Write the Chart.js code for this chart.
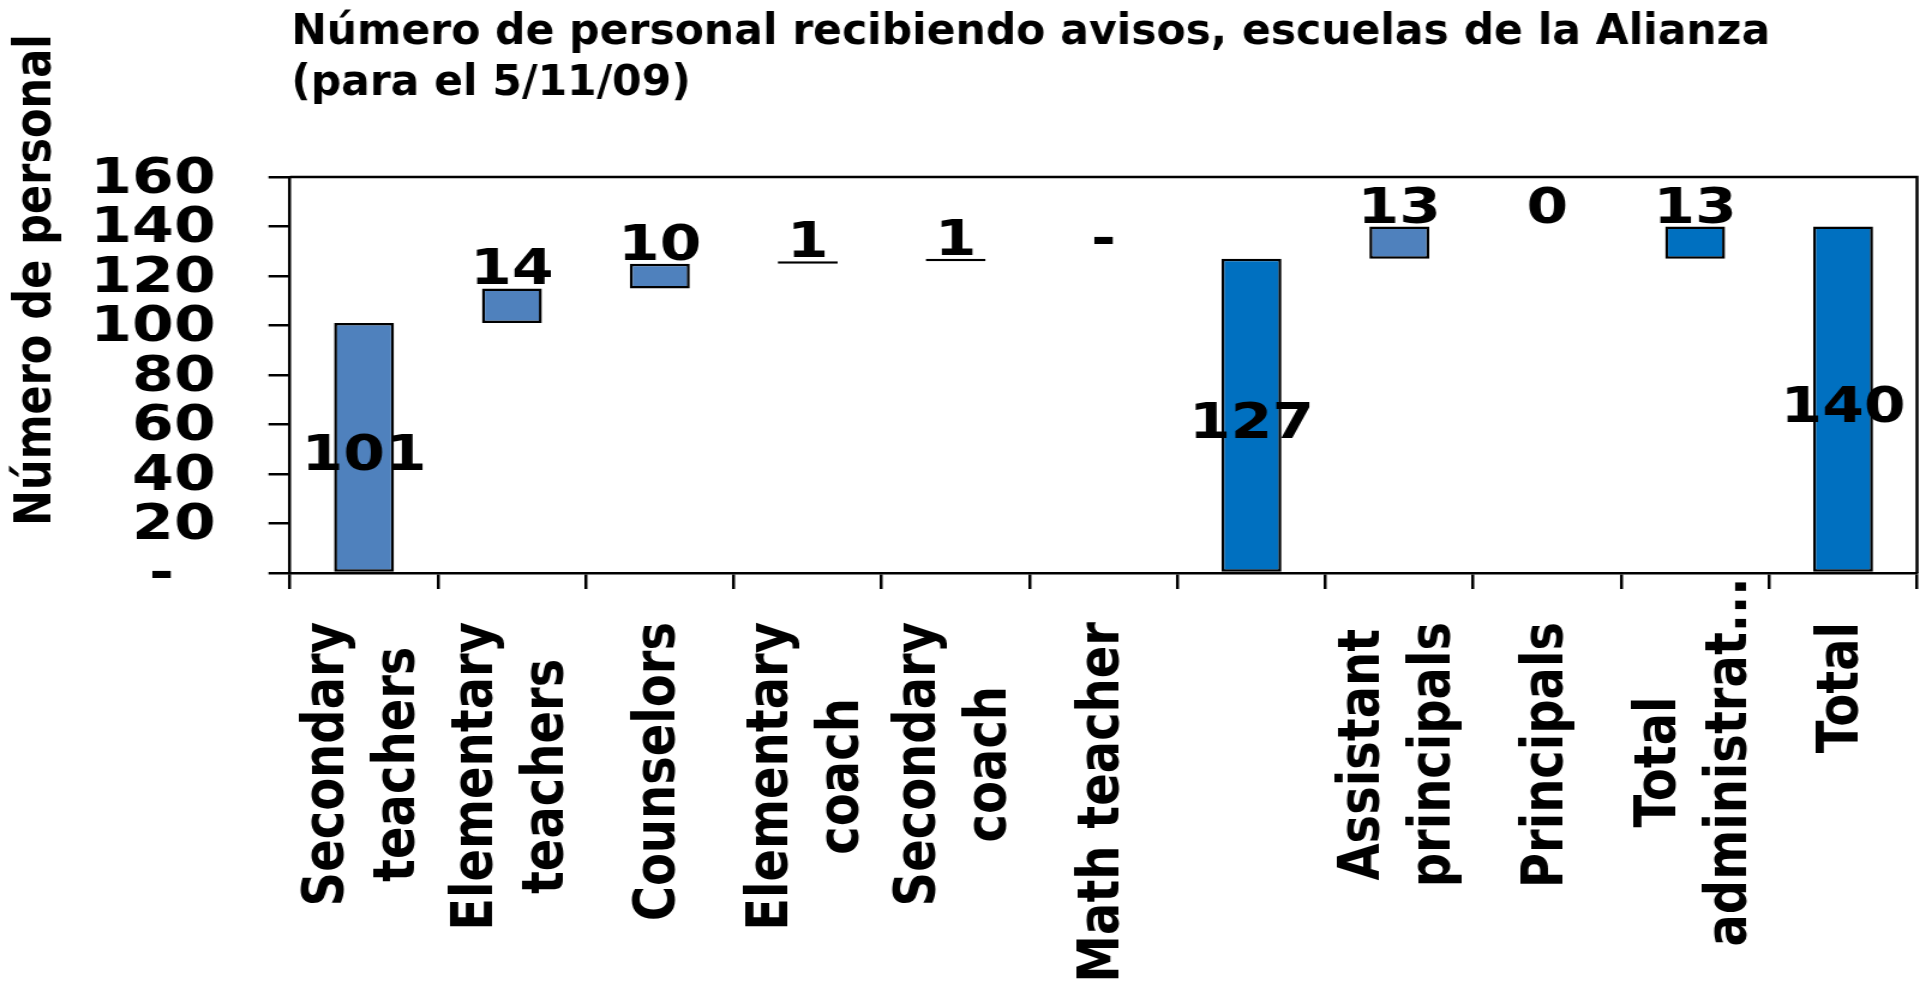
<!DOCTYPE html>
<html>
<head>
<meta charset="utf-8">
<title>Número de personal recibiendo avisos</title>
<script src="https://cdn.jsdelivr.net/npm/chart.js@4.4.1/dist/chart.umd.min.js"></script>
<style>
  html, body { margin: 0; padding: 0; background: #fff; overflow: hidden; }
  /* the source picture is stretched sideways, so the whole chart is too */
  #wrap { width: 1605px; height: 985px; transform: scaleX(1.2); transform-origin: 0 0; }
</style>
</head>
<body>
<div id="wrap"><canvas id="waterfall" width="1605" height="985"></canvas></div>
<script>
const chartTitle = ['Número de personal recibiendo avisos, escuelas de la Alianza', '(para el 5/11/09)'];
const yAxisTitle = 'Número de personal';

const categories = [
  ['Secondary', 'teachers'],
  ['Elementary', 'teachers'],
  ['Counselors'],
  ['Elementary', 'coach'],
  ['Secondary', 'coach'],
  ['Math teacher'],
  [''],
  ['Assistant', 'principals'],
  ['Principals'],
  ['Total', 'administrat...'],
  ['Total']
];
const values = [101, 14, 10, 1, 1, 0, 127, 13, 0, 13, 140];
// step = adds to the running count, total = full bar from zero,
// subtotal = floating bar ending at the running count
const barKinds = ['step', 'step', 'step', 'step', 'step', 'step', 'total', 'step', 'step', 'subtotal', 'total'];
const valueLabels = ['101', '14', '10', '1', '1', '-', '127', '13', '0', '13', '140'];
const yTickLabels = ['-', '20', '40', '60', '80', '100', '120', '140', '160'];

const stepColor = '#4F81BD';
const totalColor = '#0070C0';
const fontFamily = '"DejaVu Sans", Verdana, sans-serif';
const stretch = 1.2;

// waterfall ranges from the values
let running = 0;
const barRanges = values.map((v, i) => {
  if (barKinds[i] === 'total') { running = v; return [0, v]; }
  if (barKinds[i] === 'subtotal') return [running - v, running];
  const start = running;
  running += v;
  return [start, running];
});

Chart.defaults.font.family = fontFamily;
Chart.defaults.font.weight = 'bold';
Chart.defaults.color = '#000';

const textPlugin = {
  id: 'textPlugin',
  afterDatasetsDraw(chart) {
    const { ctx, chartArea } = chart;
    const yScale = chart.scales.y;
    const meta = chart.getDatasetMeta(0);

    // frame round the plot area (top and right side)
    ctx.save();
    ctx.strokeStyle = '#000';
    ctx.lineWidth = 2.5;
    ctx.beginPath();
    ctx.moveTo(chartArea.left, chartArea.top);
    ctx.lineTo(chartArea.right, chartArea.top);
    ctx.lineTo(chartArea.right, chartArea.bottom);
    ctx.stroke();
    ctx.restore();

    // value labels: bars standing on zero get it in the middle, the rest on top
    ctx.save();
    ctx.font = 'bold 50px ' + fontFamily;
    ctx.fillStyle = '#000';
    ctx.textAlign = 'center';
    ctx.textBaseline = 'alphabetic';
    meta.data.forEach((bar, i) => {
      const [lo, hi] = barRanges[i];
      if (lo === 0 && hi > 0) {
        ctx.fillText(valueLabels[i], bar.x, yScale.getPixelForValue((lo + hi) / 2) + 22);
      } else {
        ctx.fillText(valueLabels[i], bar.x, yScale.getPixelForValue(hi) - 4);
      }
    });
    ctx.restore();
  },
  afterDraw(chart) {
    const { ctx, chartArea } = chart;
    const xScale = chart.scales.x;

    // title (not stretched in the source)
    ctx.save();
    ctx.font = 'bold 42.5px ' + fontFamily;
    ctx.fillStyle = '#000';
    ctx.textAlign = 'left';
    ctx.textBaseline = 'alphabetic';
    ctx.translate(chartArea.left + 1, 0);
    ctx.scale(1 / stretch, 1);
    ctx.fillText(chartTitle[0], 0, 44);
    ctx.fillText(chartTitle[1], 0, 95);
    ctx.restore();

    // y axis title, sits higher than the middle of the axis
    ctx.save();
    ctx.font = 'bold 43px ' + fontFamily;
    ctx.fillStyle = '#000';
    ctx.translate(41.5, 280);
    ctx.rotate(-Math.PI / 2);
    ctx.textAlign = 'center';
    ctx.textBaseline = 'alphabetic';
    ctx.fillText(yAxisTitle, 0, 0);
    ctx.restore();

    // category labels, turned up, lines centred on each other;
    // a cut-off label ("...") is centred lower down instead
    ctx.save();
    ctx.font = 'bold 48px ' + fontFamily;
    ctx.fillStyle = '#000';
    categories.forEach((lines, i) => {
      const cx = xScale.getPixelForValue(i);
      const widest = Math.max(...lines.map(l => ctx.measureText(l).width));
      const cut = lines.some(l => l.endsWith('...'));
      const mid = cut ? 762 : xScale.top + 49 + widest / 2;
      ctx.save();
      ctx.translate(cx, mid);
      ctx.rotate(-Math.PI / 2);
      ctx.textAlign = 'center';
      ctx.textBaseline = 'middle';
      lines.forEach((line, k) => {
        ctx.fillText(line, 0, (k - (lines.length - 1) / 2) * 59);
      });
      ctx.restore();
    });
    ctx.restore();
  }
};

new Chart(document.getElementById('waterfall'), {
  type: 'bar',
  data: {
    labels: categories,
    datasets: [{
      data: barRanges,
      backgroundColor: barKinds.map(k => k === 'step' ? stepColor : totalColor),
      borderColor: '#000',
      borderWidth: 2.5,
      borderSkipped: false,
      categoryPercentage: 1,
      barPercentage: 0.405
    }]
  },
  options: {
    responsive: false,
    animation: false,
    layout: { padding: { top: 177, right: 7.5, left: 0, bottom: 0 } },
    plugins: {
      legend: { display: false },
      tooltip: { enabled: false },
      title: { display: false }
    },
    scales: {
      x: {
        offset: true,
        grid: { offset: true, drawOnChartArea: false, drawTicks: true, tickLength: 16, color: '#000', lineWidth: 2.5 },
        border: { display: true, color: '#000', width: 2.5 },
        ticks: { display: false },
        afterFit(scale) { scale.height = 985 - 573; }
      },
      y: {
        min: 0,
        max: 160,
        grid: { drawOnChartArea: false, drawTicks: true, tickLength: 18, color: '#000', lineWidth: 2.5 },
        border: { display: true, color: '#000', width: 2.5 },
        ticks: {
          stepSize: 20,
          autoSkip: false,
          padding: 44,
          labelOffset: 3,
          font: { size: 50, weight: 'bold' },
          color: '#000',
          callback: (v, i) => yTickLabels[i] === '-' ? '-\u00a0\u00a0' : yTickLabels[i]
        },
        afterFit(scale) { scale.width = 241.7; }
      }
    }
  },
  plugins: [textPlugin]
});
</script>
</body>
</html>
